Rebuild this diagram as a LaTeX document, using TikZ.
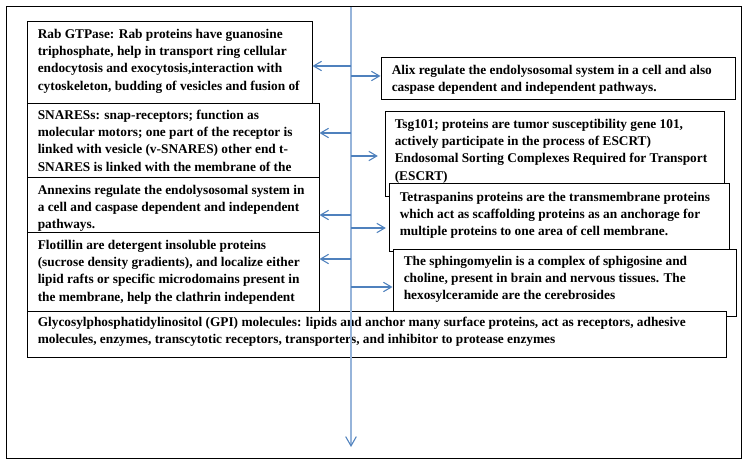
\documentclass[tikz,border=0pt]{standalone}
\usepackage{fontspec}
\setmainfont{Liberation Serif}
\usetikzlibrary{fit,arrows.meta}
\definecolor{spineblue}{RGB}{150,180,218}
\definecolor{arrowblue}{RGB}{79,129,189}
\tikzset{
  box/.style={draw=black,line width=0.75pt,fill=white,inner sep=0pt},
  txt/.style={anchor=north west,inner sep=0pt,align=left,
    font=\fontsize{10}{13}\selectfont\bfseries},
  arr/.style={draw=arrowblue,line width=0.8pt,-{Straight Barb[length=6pt,width=7pt]}},
  spine/.style={draw=spineblue,line width=1.4pt,-{Straight Barb[length=7pt,width=8pt,color=arrowblue,line width=0.8pt]}}
}
\begin{document}
\begin{tikzpicture}[x=0.75pt,y=-0.75pt]
\useasboundingbox (0,0) rectangle (750,463);
\draw[line width=0.75pt] (6,7) rectangle (741,458);
% left column
\node[box,fit={(27,22) (312,104)}] (rab) {};
\node[txt] (rabtxt) at ([shift={(11,7)}]rab.north west) {Rab GTPase: Rab proteins have guanosine\\triphosphate, help in transport ring cellular\\endocytosis and exocytosis,interaction with\\cytoskeleton, budding of vesicles and fusion of};
\node[box,fit={(27,104) (319,178)}] (snare) {};
\node[txt] (snaretxt) at ([shift={(11,6)}]snare.north west) {SNARESs:  snap-receptors;  function as\\molecular motors; one part of the receptor is\\linked with vesicle (v-SNARES)  other end t-\\SNARES  is linked with the membrane of the};
\node[box,fit={(27,178) (319,233)}] (annex) {};
\node[txt] (annextxt) at ([shift={(11,7)}]annex.north west) {Annexins regulate the endolysosomal system in\\a cell and caspase dependent and independent\\pathways.};
\node[box,fit={(27,233) (319,312)}] (flot) {};
\node[txt] (flottxt) at ([shift={(11,7)}]flot.north west) {Flotillin are detergent insoluble proteins\\(sucrose density gradients), and localize either\\lipid rafts or specific microdomains present in\\the membrane, help the clathrin independent};
% right column
\node[box,fit={(381,58) (735,100)}] (alix) {};
\node[txt] (alixtxt) at ([shift={(11,7)}]alix.north west) {Alix regulate the endolysosomal system in a cell and also\\caspase dependent and independent pathways.};
\node[box,fit={(385,112) (724,197)}] (tsg) {};
\node[txt] (tsgtxt) at ([shift={(10,7)}]tsg.north west) {Tsg101; proteins are tumor susceptibility gene 101,\\actively participate in the process of ESCRT)\\Endosomal Sorting Complexes Required for Transport\\(ESCRT)};
\node[box,fit={(389,184) (729,252)}] (tetra) {};
\node[txt] (tetratxt) at ([shift={(11,8)}]tetra.north west) {Tetraspanins proteins are the transmembrane proteins\\which act as scaffolding proteins as an anchorage for\\multiple proteins to one area of cell membrane.};
\node[box,fit={(393,250) (736,317)}] (sphingo) {};
\node[txt] (sphingotxt) at ([shift={(11,6)}]sphingo.north west) {The sphingomyelin is a complex of sphigosine and\\choline, present in brain and nervous tissues. The\\hexosylceramide are the cerebrosides};
\node[box,fit={(27,312) (726,358)}] (gpi) {};
\node[txt] (gpitxt) at ([shift={(11,5)}]gpi.north west) {Glycosylphosphatidylinositol (GPI) molecules: lipids and anchor many surface proteins, act as receptors, adhesive\\molecules, enzymes, transcytotic receptors, transporters, and inhibitor to protease enzymes};
% spine and arrows
\coordinate (top) at (351,7);
\coordinate (bot) at (351,447);
\draw[spine] (top) -- (bot);
\coordinate (l1) at (351,66);
\coordinate (l2) at (351,133);
\coordinate (l3) at (351,215);
\coordinate (l4) at (351,259);
\coordinate (r1) at (351,76);
\coordinate (r2) at (351,156);
\coordinate (r3) at (351,228);
\coordinate (r4) at (351,287);
\draw[arr] (l1) -- (l1 -| rab.east);
\draw[arr] (l2) -- (l2 -| snare.east);
\draw[arr] (l3) -- (l3 -| annex.east);
\draw[arr] (l4) -- (l4 -| flot.east);
\draw[arr] (r1) -- (r1 -| alix.west);
\draw[arr,shorten >=5] (r2) -- (r2 -| tsg.west);
\draw[arr,shorten >=2] (r3) -- (r3 -| tetra.west);
\draw[arr] (r4) -- (r4 -| sphingo.west);
\end{tikzpicture}
\end{document}
